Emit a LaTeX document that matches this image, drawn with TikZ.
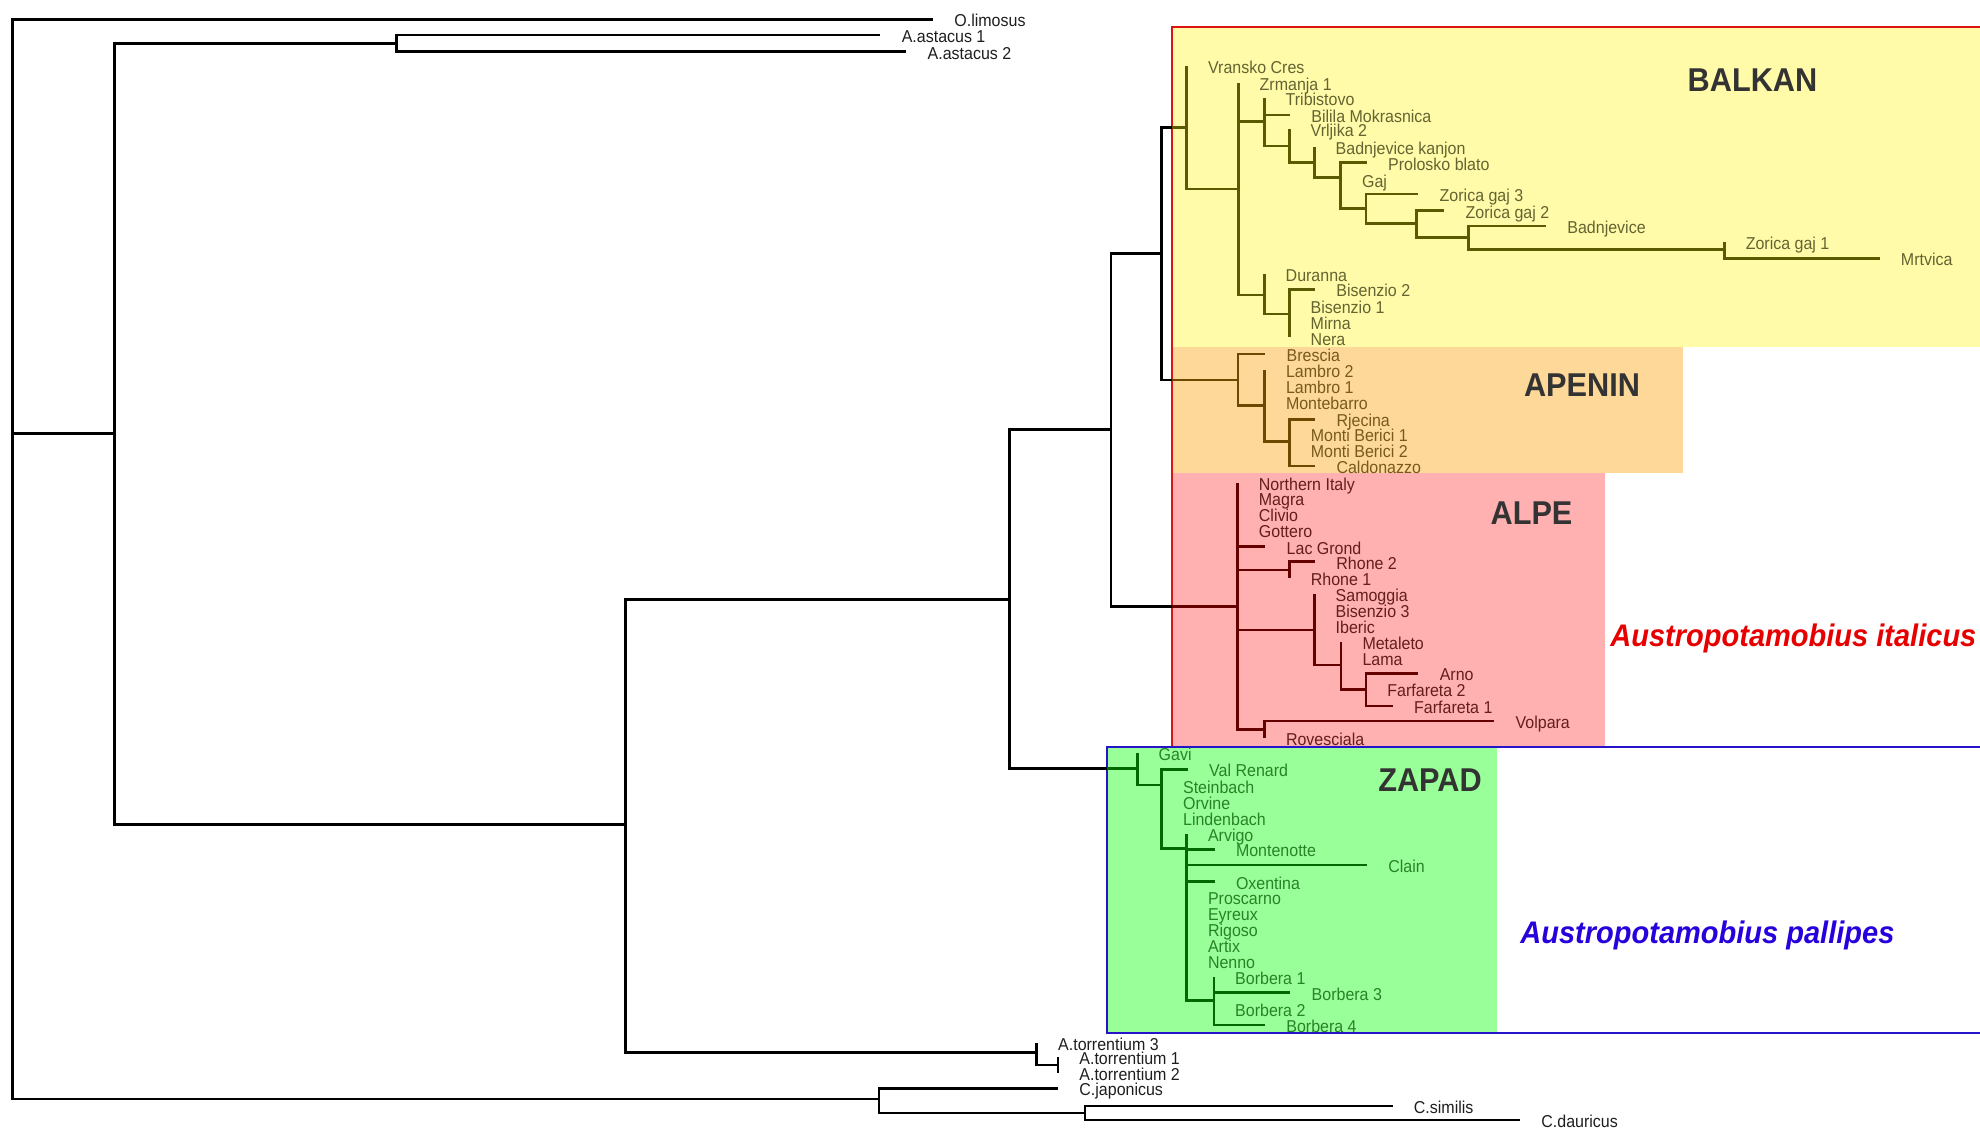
\documentclass[tikz,border=0pt]{standalone}
\usepackage{fontspec}
\usepackage{tikz}
\newfontfamily\leafFont[FakeStretch=0.93]{Liberation Sans}
\definecolor{balkanFill}{RGB}{255, 251, 168}
\definecolor{apeninFill}{RGB}{253, 216, 153}
\definecolor{alpeFill}{RGB}{255, 176, 176}
\definecolor{zapadFill}{RGB}{153, 255, 153}
\definecolor{frameRed}{RGB}{220, 20, 20}
\definecolor{frameBlue}{RGB}{40, 20, 200}
\definecolor{balkanLine}{RGB}{90, 90, 0}
\definecolor{balkanText}{RGB}{100, 100, 50}
\definecolor{apeninLine}{RGB}{110, 72, 0}
\definecolor{apeninText}{RGB}{120, 90, 30}
\definecolor{alpeLine}{RGB}{100, 0, 0}
\definecolor{alpeText}{RGB}{100, 30, 30}
\definecolor{zapadLine}{RGB}{0, 105, 0}
\definecolor{zapadText}{RGB}{40, 130, 40}
\definecolor{titleGray}{RGB}{51, 51, 51}
\definecolor{italicusRed}{RGB}{230, 0, 0}
\definecolor{pallipesBlue}{RGB}{40, 0, 220}
\definecolor{outerText}{RGB}{30, 30, 30}
\tikzset{
    tree_edge/.style={
        line width=1.4pt,
        draw=black
    },
    clade_edge/.style={
        tree_edge,
        line width=1.25pt
    },
    balkan_edge/.style={clade_edge, draw=balkanLine},
    apenin_edge/.style={clade_edge, draw=apeninLine},
    alpe_edge/.style={clade_edge, draw=alpeLine},
    zapad_edge/.style={clade_edge, draw=zapadLine},
    leaf/.style={
        anchor=west,
        inner xsep=10.5pt,
        inner ysep=0pt,
        text height=7.6pt,
        text depth=0pt,
        font=\leafFont\fontsize{8.6}{9}\selectfont,
        text=outerText
    },
    balkan_leaf/.style={leaf, text=balkanText},
    apenin_leaf/.style={leaf, text=apeninText},
    alpe_leaf/.style={leaf, text=alpeText},
    zapad_leaf/.style={leaf, text=zapadText},
    clade_title/.style={
        inner sep=0pt,
        text height=11.8pt,
        text depth=0pt,
        font=\leafFont\bfseries\fontsize{16.5}{17}\selectfont,
        text=titleGray
    },
    species_name/.style={
        anchor=west,
        inner sep=0pt,
        text height=11.2pt,
        text depth=0pt,
        font=\leafFont\bfseries\itshape\fontsize{15.6}{16}\selectfont
    }
}

\begin{document}
\begin{tikzpicture}[x=0.5pt, y=-0.5pt]
    \useasboundingbox (0,0) rectangle (1980,1128);

    % clade boxes
    \fill[balkanFill] (1172,27) rectangle (1980,347.3);
    \fill[apeninFill] (1172,347.3) rectangle (1682.5,472.7);
    \fill[alpeFill] (1172,472.7) rectangle (1605,747);
    \fill[zapadFill] (1107,747) rectangle (1497,1033);
    \coordinate (italicusL) at (1172,27);
    \coordinate (pallipesL) at (1107,747);
    \draw[frameRed, line width=1pt] (1980,27) -- (italicusL) -- (1172,747);
    \draw[frameBlue, line width=1pt] (1980,747) -- (pallipesL) -- (1107,1033) -- (1980,1033);

    \node[clade_title] (balkanT) at (1752.5,79.3) {BALKAN};
    \node[clade_title] (apeninT) at (1582,385) {APENIN};
    \node[clade_title] (alpeT) at (1531.5,513) {ALPE};
    \node[clade_title] (zapadT) at (1430,780) {ZAPAD};
    \node[species_name, text=italicusRed] (italicus) at (1610,635) {Austropotamobius italicus};
    \node[species_name, text=pallipesBlue] (pallipes) at (1520,932) {Austropotamobius pallipes};

    % outgroups
    \coordinate (root) at (12.6,433.6);
    \coordinate (astacidae) at (114.3,433.6);
    \coordinate (astacus) at (396.4,43.3);
    \coordinate (austro) at (625.5,824.6);
    \coordinate (itpal) at (1009.3,599.5);
    \coordinate (italicusN) at (1111,429.7);
    \coordinate (balkapen) at (1161.7,253.7);
    \coordinate (torr) at (1036.8,1052.7);
    \coordinate (torr12) at (1058,1065);
    \coordinate (camb) at (879,1099);
    \coordinate (cambsd) at (1085,1113);

    \node[leaf] (olim) at (933,19.3) {O.limosus};
    \node[leaf] (aast1) at (880.4,35) {A.astacus 1};
    \node[leaf] (aast2) at (906.3,51.7) {A.astacus 2};
    \node[leaf] (torr3) at (1036.8,1042.5) {A.torrentium 3};
    \node[leaf] (torr1) at (1058,1057) {A.torrentium 1};
    \node[leaf] (torr2) at (1058,1073) {A.torrentium 2};
    \node[leaf] (cjap) at (1058,1088.3) {C.japonicus};
    \node[leaf] (csim) at (1392.5,1106) {C.similis};
    \node[leaf] (cdau) at (1520,1120) {C.dauricus};

    % Balkan
    \coordinate (balkan) at (1186.7,127.3);
    \coordinate (bA) at (1238.3,189);
    \coordinate (bB) at (1264.3,121.7);
    \coordinate (bD) at (1289.3,146);
    \coordinate (bE) at (1314.3,162.7);
    \coordinate (bF) at (1340.7,177.3);
    \coordinate (bG) at (1366,208.3);
    \coordinate (bH) at (1416.7,223.3);
    \coordinate (bI) at (1468.3,237.3);
    \coordinate (bJ) at (1724.4,249.3);
    \coordinate (bC) at (1264.3,295);
    \coordinate (bK) at (1289.3,314);

    \node[balkan_leaf] (vransko) at (1186.7,66) {Vransko Cres};
    \node[balkan_leaf] (zrmanja) at (1238.3,82.7) {Zrmanja 1};
    \node[balkan_leaf] (tribistovo) at (1264.3,98.3) {Tribistovo};
    \node[balkan_leaf] (bilila) at (1290,115) {Bilila Mokrasnica};
    \node[balkan_leaf] (vrljika) at (1289.3,129.3) {Vrljika 2};
    \node[balkan_leaf] (badkanjon) at (1314.3,146.7) {Badnjevice kanjon};
    \node[balkan_leaf] (prolosko) at (1366.7,162.7) {Prolosko blato};
    \node[balkan_leaf] (gaj) at (1340.7,180) {Gaj};
    \node[balkan_leaf] (zgaj3) at (1418.3,194) {Zorica gaj 3};
    \node[balkan_leaf] (zgaj2) at (1444.3,210.7) {Zorica gaj 2};
    \node[balkan_leaf] (badnjevice) at (1546,226) {Badnjevice};
    \node[balkan_leaf] (zgaj1) at (1724.4,241.7) {Zorica gaj 1};
    \node[balkan_leaf] (mrtvica) at (1879.5,258.3) {Mrtvica};
    \node[balkan_leaf] (duranna) at (1264.3,274) {Duranna};
    \node[balkan_leaf] (bisenzio2) at (1315,289.3) {Bisenzio 2};
    \node[balkan_leaf] (bisenzio1) at (1289.3,305.5) {Bisenzio 1};
    \node[balkan_leaf] (mirna) at (1289.3,321.5) {Mirna};
    \node[balkan_leaf] (nera) at (1289.3,337.5) {Nera};

    % Apenin
    \coordinate (apenin) at (1237.8,380);
    \coordinate (aM) at (1264.6,405.7);
    \coordinate (aN) at (1289.4,441.7);

    \node[apenin_leaf] (brescia) at (1265.3,354) {Brescia};
    \node[apenin_leaf] (lambro2) at (1264.6,370) {Lambro 2};
    \node[apenin_leaf] (lambro1) at (1264.6,385.5) {Lambro 1};
    \node[apenin_leaf] (montebarro) at (1264.6,401.5) {Montebarro};
    \node[apenin_leaf] (rjecina) at (1315.1,419.3) {Rjecina};
    \node[apenin_leaf] (mberici1) at (1289.4,433.5) {Monti Berici 1};
    \node[apenin_leaf] (mberici2) at (1289.4,449.5) {Monti Berici 2};
    \node[apenin_leaf] (caldonazzo) at (1315.1,466) {Caldonazzo};

    % Alpe
    \coordinate (alpe) at (1237.5,606.7);
    \coordinate (lRh) at (1289.4,570);
    \coordinate (lSa) at (1314.3,630);
    \coordinate (lMe) at (1341.1,665);
    \coordinate (lAr) at (1366,689.3);
    \coordinate (lVo) at (1264.6,729.3);

    \node[alpe_leaf] (nitaly) at (1237.5,482.5) {Northern Italy};
    \node[alpe_leaf] (magra) at (1237.5,498) {Magra};
    \node[alpe_leaf] (clivio) at (1237.5,514) {Clivio};
    \node[alpe_leaf] (gottero) at (1237.5,529.5) {Gottero};
    \node[alpe_leaf] (lacgrond) at (1265.3,546.7) {Lac Grond};
    \node[alpe_leaf] (rhone2) at (1315,561.7) {Rhone 2};
    \node[alpe_leaf] (rhone1) at (1289.4,578) {Rhone 1};
    \node[alpe_leaf] (samoggia) at (1314.3,594) {Samoggia};
    \node[alpe_leaf] (bisenzio3) at (1314.3,609.5) {Bisenzio 3};
    \node[alpe_leaf] (iberic) at (1314.3,625.5) {Iberic};
    \node[alpe_leaf] (metaleto) at (1341.1,642) {Metaleto};
    \node[alpe_leaf] (lama) at (1341.1,658) {Lama};
    \node[alpe_leaf] (arno) at (1418.4,673.3) {Arno};
    \node[alpe_leaf] (farfareta2) at (1366,689.3) {Farfareta 2};
    \node[alpe_leaf] (farfareta1) at (1392.8,706) {Farfareta 1};
    \node[alpe_leaf] (volpara) at (1494.2,721) {Volpara};
    \node[alpe_leaf] (rovesciala) at (1264.6,737.5) {Rovesciala};

    % Zapad
    \coordinate (zapad) at (1137.3,768.5);
    \coordinate (zVr) at (1161.7,785);
    \coordinate (zCl) at (1186.6,848.3);
    \coordinate (zBo) at (1213.8,1000.7);

    \node[zapad_leaf] (gavi) at (1137.3,752.5) {Gavi};
    \node[zapad_leaf] (valrenard) at (1187.8,769.3) {Val Renard};
    \node[zapad_leaf] (steinbach) at (1161.7,786) {Steinbach};
    \node[zapad_leaf] (orvine) at (1161.7,801.5) {Orvine};
    \node[zapad_leaf] (lindenbach) at (1161.7,818) {Lindenbach};
    \node[zapad_leaf] (arvigo) at (1186.6,834) {Arvigo};
    \node[zapad_leaf] (montenotte) at (1214.6,849.3) {Montenotte};
    \node[zapad_leaf] (clain) at (1366.9,865) {Clain};
    \node[zapad_leaf] (oxentina) at (1214.6,881.7) {Oxentina};
    \node[zapad_leaf] (proscarno) at (1186.6,897) {Proscarno};
    \node[zapad_leaf] (eyreux) at (1186.6,913) {Eyreux};
    \node[zapad_leaf] (rigoso) at (1186.6,929) {Rigoso};
    \node[zapad_leaf] (artix) at (1186.6,945) {Artix};
    \node[zapad_leaf] (nenno) at (1186.6,960.5) {Nenno};
    \node[zapad_leaf] (borbera1) at (1213.8,977) {Borbera 1};
    \node[zapad_leaf] (borbera3) at (1290.3,992.7) {Borbera 3};
    \node[zapad_leaf] (borbera2) at (1213.8,1008.5) {Borbera 2};
    \node[zapad_leaf] (borbera4) at (1265,1025) {Borbera 4};

    % branches
    \draw[tree_edge]
    (root) |- (olim.west)
    (root) -- (astacidae)
    (root) |- (camb)
    (astacidae) |- (astacus)
    (astacidae) |- (austro)
    (astacus) |- (aast1.west)
    (astacus) |- (aast2.west)
    (austro) |- (itpal)
    (austro) |- (torr)
    (itpal) |- (italicusN)
    (itpal) |- (zapad)
    (italicusN) |- (balkapen)
    (italicusN) |- (alpe)
    (balkapen) |- (balkan)
    (balkapen) |- (apenin)
    (torr) |- (torr3.west)
    (torr) |- (torr12)
    (torr12) |- (torr1.west)
    (torr12) |- (torr2.west)
    (camb) |- (cjap.west)
    (camb) |- (cambsd)
    (cambsd) |- (csim.west)
    (cambsd) |- (cdau.west);

    \draw[balkan_edge]
    (balkan -| italicusL) -- (balkan)
    (balkan) |- (vransko.west)
    (balkan) |- (bA)
    (bA) |- (zrmanja.west)
    (bA) |- (bB)
    (bA) |- (bC)
    (bB) |- (tribistovo.west)
    (bB) |- (bilila.west)
    (bB) |- (bD)
    (bD) |- (vrljika.west)
    (bD) |- (bE)
    (bE) |- (badkanjon.west)
    (bE) |- (bF)
    (bF) |- (prolosko.west)
    (bF) |- (gaj.west)
    (bF) |- (bG)
    (bG) |- (zgaj3.west)
    (bG) |- (bH)
    (bH) |- (zgaj2.west)
    (bH) |- (bI)
    (bI) |- (badnjevice.west)
    (bI) |- (bJ)
    (bJ) |- (zgaj1.west)
    (bJ) |- (mrtvica.west)
    (bC) |- (duranna.west)
    (bC) |- (bK)
    (bK) |- (bisenzio2.west)
    (bK) |- (bisenzio1.west)
    (bK) |- (mirna.west)
    (bK) |- (nera.west);

    \draw[apenin_edge]
    (apenin -| italicusL) -- (apenin)
    (apenin) |- (brescia.west)
    (apenin) |- (aM)
    (aM) |- (lambro2.west)
    (aM) |- (lambro1.west)
    (aM) |- (montebarro.west)
    (aM) |- (aN)
    (aN) |- (rjecina.west)
    (aN) |- (mberici1.west)
    (aN) |- (mberici2.west)
    (aN) |- (caldonazzo.west);

    \draw[alpe_edge]
    (alpe -| italicusL) -- (alpe)
    (alpe) |- (nitaly.west)
    (alpe) |- (magra.west)
    (alpe) |- (clivio.west)
    (alpe) |- (gottero.west)
    (alpe) |- (lacgrond.west)
    (alpe) |- (lRh)
    (alpe) |- (lSa)
    (alpe) |- (lVo)
    (lRh) |- (rhone2.west)
    (lRh) |- (rhone1.west)
    (lSa) |- (samoggia.west)
    (lSa) |- (bisenzio3.west)
    (lSa) |- (iberic.west)
    (lSa) |- (lMe)
    (lMe) |- (metaleto.west)
    (lMe) |- (lama.west)
    (lMe) |- (lAr)
    (lAr) |- (arno.west)
    (lAr) |- (farfareta1.west)
    (lVo) |- (volpara.west)
    (lVo) |- (rovesciala.west);

    \draw[zapad_edge]
    (zapad -| pallipesL) -- (zapad)
    (zapad) |- (gavi.west)
    (zapad) |- (zVr)
    (zVr) |- (valrenard.west)
    (zVr) |- (lindenbach.west)
    (zVr) |- (zCl)
    (zCl) |- (arvigo.west)
    (zCl) |- (montenotte.west)
    (zCl) |- (clain.west)
    (zCl) |- (oxentina.west)
    (zCl) |- (zBo)
    (zBo) |- (borbera1.west)
    (zBo) |- (borbera3.west)
    (zBo) |- (borbera2.west)
    (zBo) |- (borbera4.west);
\end{tikzpicture}
\end{document}
